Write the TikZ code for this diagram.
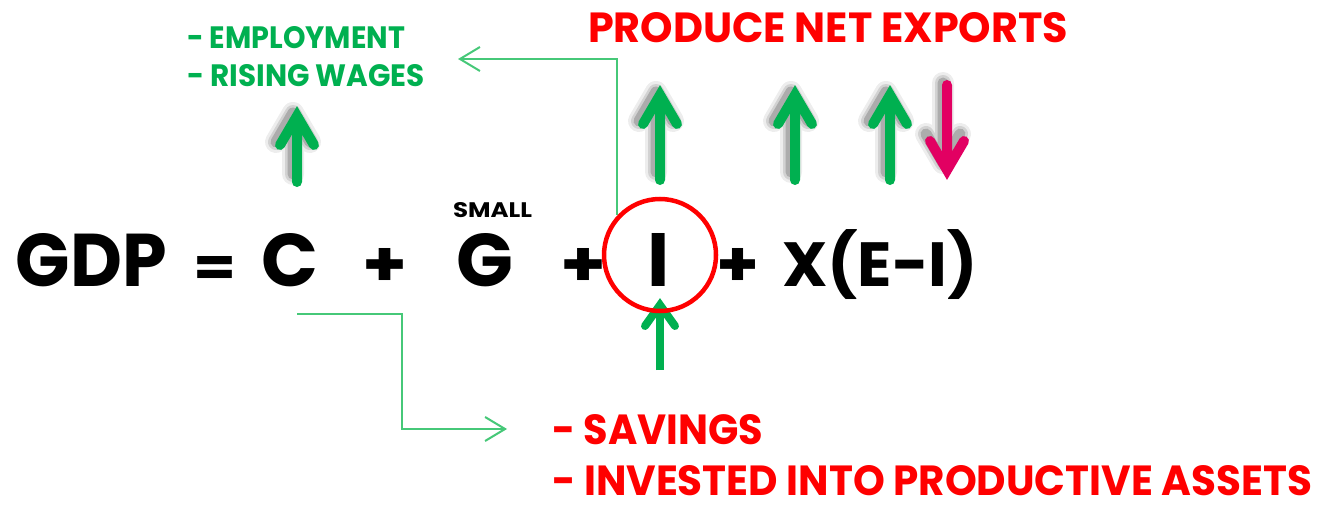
\documentclass[tikz,border=0pt]{standalone}
\usepackage{graphicx}
\usepackage{fontspec}
\newfontfamily\pop{Poppins}
\usetikzlibrary{arrows.meta}
\definecolor{eqgreen}{RGB}{0,176,80}
\definecolor{eqred}{RGB}{255,0,0}
\definecolor{eqmag}{RGB}{226,0,98}
\definecolor{linkgreen}{RGB}{70,200,120}
\tikzset{
  txt/.style={inner sep=0pt, outer sep=0pt, font=\pop\bfseries},
  link/.style={draw=linkgreen, line width=2pt, -{Straight Barb[length=20pt,width=24pt]}},
  fatline/.style={line cap=round, line join=miter},
  shadowline/.style={black, line cap=round, line join=round}
}
% x, tail y, length, colour, direction (1 = up, -1 = down)
\newcommand{\fatarrow}[5]{%
  \begin{scope}[shift={({#1-4},{#2-5})}, yscale=#5]
    \draw[shadowline, opacity=0.07, line width=22pt] (0,-3) -- (0,{-(#3)+12}) (-17,{-(#3)+41}) -- (0,{-(#3)+12}) -- (17,{-(#3)+41});
    \draw[shadowline, opacity=0.11, line width=16pt] (0,-3) -- (0,{-(#3)+12}) (-17,{-(#3)+41}) -- (0,{-(#3)+12}) -- (17,{-(#3)+41});
    \draw[shadowline, opacity=0.18, line width=11pt] (0,-3) -- (0,{-(#3)+12}) (-17,{-(#3)+41}) -- (0,{-(#3)+12}) -- (17,{-(#3)+41});
  \end{scope}
  \begin{scope}[shift={(#1,#2)}, yscale=#5]
    \draw[fatline, #4, line width=10pt] (0,0) -- (0,{-(#3)+10}) (-17,{-(#3)+39}) -- (0,{-(#3)+10}) -- (17,{-(#3)+39});
    \fill[#4] (-5,0) rectangle (5,-6);
  \end{scope}
}
\begin{document}
\begin{tikzpicture}[x=1pt, y=-1pt]
\fill[white] (0,0) rectangle (1321,505);
\useasboundingbox (0,0) rectangle (1321,505);

% green/red labels
\node[txt, text=eqgreen, anchor=base west] (emp) at (187,49) {\resizebox{218pt}{22pt}{- EMPLOYMENT}};
\node[txt, text=eqgreen, anchor=base west] (wages) at (187,87) {\resizebox{238pt}{22pt}{- RISING WAGES}};
\node[txt, text=eqred, anchor=base west] (pne) at (588,43) {\resizebox{480pt}{30pt}{PRODUCE NET EXPORTS}};
\node[txt, anchor=base west] (small) at (453,217) {\resizebox{79pt}{15pt}{SMALL}};
\node[txt, text=eqred, anchor=base west] (sav) at (552,444) {\resizebox{211pt}{30pt}{- SAVINGS}};
\node[txt, text=eqred, anchor=base west] (inv) at (552,495) {\resizebox{760pt}{30pt}{- INVESTED INTO PRODUCTIVE ASSETS}};

% equation
\node[txt, anchor=base west] (gdp) at (16,286) {\resizebox{151pt}{53pt}{GDP}};
\node[txt, anchor=base west] (eq) at (193,286) {\resizebox{43pt}{30pt}{=}};
\node[txt, anchor=base] (cc) at (290,286) {\resizebox{!}{53pt}{C}};
\node[txt, anchor=base west] (p1) at (362,286) {\resizebox{45pt}{38pt}{+}};
\node[txt, anchor=base] (gg) at (484.5,286) {\resizebox{!}{53pt}{G}};
\node[txt, anchor=base west] (p2) at (560,286) {\resizebox{46pt}{38pt}{+}};
\node[txt, anchor=base] (ii) at (659,286) {\resizebox{!}{53pt}{I}};
\node[txt, anchor=base west] (p3) at (716,286) {\resizebox{43pt}{38pt}{+}};
\node[txt, anchor=base west] (xei) at (782,286) {\resizebox*{196pt}{70pt}{X(E-I)}};

% fat arrows
\fatarrow{297}{182}{76}{eqgreen}{1}
\fatarrow{660}{180}{95}{eqgreen}{1}
\fatarrow{795}{180}{95}{eqgreen}{1}
\fatarrow{890}{180}{95}{eqgreen}{1}
\fatarrow{947}{85}{95}{eqmag}{-1}

% arrow into I from below
\draw[fatline, eqgreen, line width=8pt, line cap=butt] (660,370) -- (660,305);
\draw[fatline, eqgreen, line width=8pt] (645,326) -- (660,305) -- (675,326);

% circle round I
\node[draw=eqred, line width=4.5pt, circle, minimum size=112pt, inner sep=0pt] (circ) at (660,255) {};

% thin connectors
\coordinate (empTip) at (458,59);
\draw[link] (circ.137) |- (empTip);
\coordinate (cOut) at (297,314);
\coordinate (bend) at (402,429);
\coordinate (savTip) at (507,429);
\draw[link] (cOut) -| (bend) -- (savTip);
\end{tikzpicture}
\end{document}
